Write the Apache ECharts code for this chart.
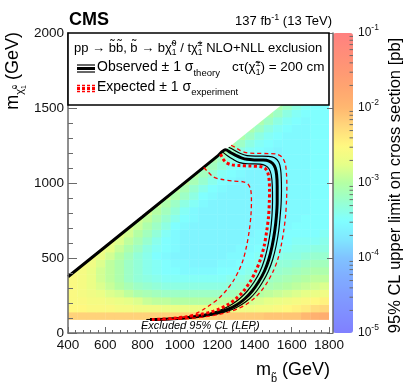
<!DOCTYPE html>
<html><head><meta charset="utf-8">
<script src="https://cdn.jsdelivr.net/npm/echarts@6/dist/echarts.min.js"></script>
<style>html,body{margin:0;padding:0;background:#fff}#c{width:407px;height:391px}</style>
</head><body><div id="c"></div>
<script>
// ---------- data ----------
const mbCenters = [425,475,525,575,625,675,725,775,825,875,925,975,1025,1075,1125,1175,1225,1275,1325,1375,1425,1475,1525,1575,1625,1675,1725,1775];
const mchiCenters = [115,165,215,265,315,365,415,465,515,565,615,665,715,765,815,865,915,965,1015,1065,1115,1165,1215,1265,1315,1365,1415,1465,1515];
const n = null;
// log10 of the 95% CL upper limit [pb], one row per mchi centre
const limitLog10 = [
[-2.2,-2.2,-2.2,-2.2,-2.2,-2.2,-2.2,-2.2,-2.2,-2.2,-2.2,-2.2,-2.2,-2.2,-2.2,-2.2,-2.15,-2.15,-2.15,-2.15,-2.15,-2.1,-2.1,-2.1,-2.1,-2.0,-1.9,-1.85],
[-2.5,-2.5,-2.55,-2.55,-2.55,-2.6,-2.6,-2.65,-2.65,-2.65,-2.7,-2.7,-2.7,-2.7,-2.7,-2.7,-2.7,-2.7,-2.65,-2.65,-2.6,-2.6,-2.55,-2.5,-2.45,-2.4,-2.3,-2.25],
[-2.55,-2.55,-2.6,-2.6,-2.65,-2.7,-2.75,-2.8,-2.9,-2.95,-2.95,-3.0,-3.0,-3.0,-3.0,-3.0,-2.95,-2.95,-2.9,-2.85,-2.8,-2.75,-2.7,-2.65,-2.6,-2.55,-2.5,-2.45],
[-2.55,-2.6,-2.65,-2.7,-2.8,-2.85,-2.95,-3.05,-3.1,-3.15,-3.2,-3.2,-3.2,-3.2,-3.2,-3.2,-3.2,-3.15,-3.1,-3.05,-3.0,-2.95,-2.9,-2.85,-2.8,-2.75,-2.7,-2.65],
[-2.55,-2.6,-2.7,-2.8,-2.9,-3.0,-3.1,-3.2,-3.25,-3.3,-3.35,-3.35,-3.35,-3.35,-3.35,-3.35,-3.35,-3.3,-3.25,-3.2,-3.15,-3.1,-3.05,-3.0,-2.95,-2.9,-2.85,-2.8],
[-2.55,-2.6,-2.7,-2.85,-2.95,-3.05,-3.2,-3.3,-3.35,-3.4,-3.45,-3.45,-3.45,-3.45,-3.45,-3.45,-3.45,-3.4,-3.35,-3.3,-3.25,-3.2,-3.15,-3.1,-3.05,-3.0,-2.95,-2.95],
[-2.55,-2.6,-2.7,-2.85,-2.95,-3.05,-3.2,-3.3,-3.4,-3.45,-3.5,-3.5,-3.55,-3.55,-3.55,-3.55,-3.5,-3.5,-3.45,-3.4,-3.35,-3.3,-3.25,-3.2,-3.15,-3.1,-3.05,-3.05],
[n,-2.6,-2.65,-2.8,-2.95,-3.05,-3.2,-3.3,-3.4,-3.45,-3.5,-3.55,-3.55,-3.6,-3.6,-3.6,-3.55,-3.55,-3.5,-3.45,-3.4,-3.35,-3.3,-3.3,-3.25,-3.2,-3.15,-3.15],
[n,n,-2.6,-2.7,-2.85,-3.0,-3.15,-3.3,-3.4,-3.5,-3.55,-3.6,-3.6,-3.6,-3.6,-3.6,-3.6,-3.55,-3.55,-3.5,-3.45,-3.45,-3.4,-3.35,-3.35,-3.3,-3.25,-3.25],
[n,n,n,-2.65,-2.75,-2.9,-3.05,-3.2,-3.35,-3.45,-3.5,-3.55,-3.6,-3.6,-3.6,-3.6,-3.6,-3.6,-3.55,-3.55,-3.5,-3.5,-3.45,-3.45,-3.4,-3.4,-3.35,-3.35],
[n,n,n,n,-2.7,-2.8,-2.95,-3.1,-3.25,-3.4,-3.5,-3.55,-3.6,-3.6,-3.6,-3.6,-3.6,-3.6,-3.6,-3.55,-3.55,-3.55,-3.5,-3.5,-3.45,-3.45,-3.45,-3.4],
[n,n,n,n,n,-2.75,-2.85,-3.0,-3.15,-3.3,-3.45,-3.55,-3.6,-3.6,-3.6,-3.6,-3.6,-3.6,-3.6,-3.6,-3.55,-3.55,-3.55,-3.5,-3.5,-3.5,-3.5,-3.45],
[n,n,n,n,n,n,-2.8,-2.9,-3.05,-3.2,-3.35,-3.5,-3.55,-3.6,-3.6,-3.6,-3.6,-3.6,-3.6,-3.6,-3.6,-3.55,-3.55,-3.55,-3.5,-3.5,-3.5,-3.5],
[n,n,n,n,n,n,n,-2.85,-2.95,-3.1,-3.25,-3.4,-3.5,-3.55,-3.6,-3.6,-3.6,-3.6,-3.6,-3.6,-3.6,-3.6,-3.55,-3.55,-3.55,-3.5,-3.5,-3.5],
[n,n,n,n,n,n,n,n,-2.85,-3.0,-3.15,-3.3,-3.45,-3.55,-3.6,-3.6,-3.6,-3.6,-3.6,-3.6,-3.6,-3.6,-3.6,-3.55,-3.55,-3.55,-3.5,-3.5],
[n,n,n,n,n,n,n,n,n,-2.9,-3.05,-3.2,-3.35,-3.45,-3.55,-3.6,-3.6,-3.6,-3.6,-3.6,-3.6,-3.6,-3.6,-3.55,-3.55,-3.55,-3.5,-3.5],
[n,n,n,n,n,n,n,n,n,n,-2.9,-3.05,-3.2,-3.35,-3.5,-3.55,-3.6,-3.6,-3.6,-3.6,-3.6,-3.6,-3.6,-3.55,-3.55,-3.55,-3.5,-3.5],
[n,n,n,n,n,n,n,n,n,n,n,-2.95,-3.1,-3.25,-3.4,-3.5,-3.55,-3.6,-3.6,-3.6,-3.6,-3.6,-3.6,-3.55,-3.55,-3.55,-3.5,-3.5],
[n,n,n,n,n,n,n,n,n,n,n,n,-2.95,-3.1,-3.25,-3.4,-3.5,-3.55,-3.6,-3.6,-3.6,-3.6,-3.6,-3.55,-3.55,-3.55,-3.5,-3.5],
[n,n,n,n,n,n,n,n,n,n,n,n,n,-3.0,-3.15,-3.3,-3.45,-3.5,-3.55,-3.6,-3.6,-3.6,-3.6,-3.55,-3.55,-3.55,-3.5,-3.5],
[n,n,n,n,n,n,n,n,n,n,n,n,n,n,-3.0,-3.15,-3.3,-3.45,-3.5,-3.55,-3.6,-3.6,-3.6,-3.55,-3.55,-3.55,-3.5,-3.5],
[n,n,n,n,n,n,n,n,n,n,n,n,n,n,n,-3.05,-3.2,-3.35,-3.45,-3.5,-3.55,-3.6,-3.6,-3.55,-3.55,-3.55,-3.5,-3.5],
[n,n,n,n,n,n,n,n,n,n,n,n,n,n,n,n,-3.05,-3.2,-3.35,-3.45,-3.5,-3.55,-3.6,-3.55,-3.55,-3.55,-3.5,-3.5],
[n,n,n,n,n,n,n,n,n,n,n,n,n,n,n,n,n,-3.05,-3.2,-3.35,-3.45,-3.5,-3.55,-3.55,-3.55,-3.55,-3.5,-3.5],
[n,n,n,n,n,n,n,n,n,n,n,n,n,n,n,n,n,n,-3.05,-3.2,-3.35,-3.45,-3.5,-3.55,-3.55,-3.55,-3.5,-3.5],
[n,n,n,n,n,n,n,n,n,n,n,n,n,n,n,n,n,n,n,-3.05,-3.2,-3.35,-3.45,-3.5,-3.55,-3.55,-3.5,-3.5],
[n,n,n,n,n,n,n,n,n,n,n,n,n,n,n,n,n,n,n,n,-3.05,-3.2,-3.35,-3.45,-3.5,-3.55,-3.5,-3.5],
[n,n,n,n,n,n,n,n,n,n,n,n,n,n,n,n,n,n,n,n,n,-3.05,-3.2,-3.35,-3.45,-3.5,-3.5,-3.5],
[n,n,n,n,n,n,n,n,n,n,n,n,n,n,n,n,n,n,n,n,n,n,-3.05,-3.2,-3.35,-3.45,-3.5,-3.5]
];
// kinematic boundary (edge of the scanned region)
const diagonal = [[400,375],[1800,1775]];
// exclusion contours [m_sbottom, m_neutralino]
const observed = [[400,375],[800,775],[1200,1177],[1245,1221],[1272,1203],[1300,1184],[1330,1168],[1360,1158],[1400,1154],[1445,1153],[1475,1148],[1498,1130],[1512,1100],[1519,1055],[1522,980],[1522,880],[1518,780],[1509,680],[1495,580],[1477,490],[1453,410],[1422,340],[1388,280],[1350,230],[1308,190],[1262,160],[1215,140],[1155,122],[1085,108],[1005,98],[925,92],[840,90]];
const observedUp = [[1262,1238],[1290,1220],[1322,1198],[1360,1183],[1420,1179],[1475,1177],[1508,1168],[1530,1140],[1540,1095],[1544,1030],[1545,950],[1543,860],[1538,780],[1530,680],[1516,580],[1498,490],[1474,410],[1444,340],[1412,280],[1375,230],[1332,190],[1287,160],[1242,140],[1185,122],[1115,108],[1035,98],[955,92],[880,90]];
const observedDown = [[1230,1206],[1255,1182],[1285,1158],[1320,1136],[1370,1128],[1430,1126],[1458,1117],[1478,1095],[1490,1055],[1496,980],[1497,880],[1494,780],[1486,680],[1472,580],[1454,490],[1430,410],[1398,340],[1362,280],[1322,230],[1278,190],[1232,160],[1185,140],[1125,122],[1055,108],[975,98],[900,92],[820,90]];
const expected = [[1218,1193],[1232,1160],[1248,1137],[1275,1122],[1320,1116],[1380,1113],[1430,1110],[1455,1100],[1470,1075],[1478,1030],[1481,960],[1480,880],[1476,780],[1466,680],[1452,580],[1432,490],[1406,410],[1376,340],[1342,280],[1302,230],[1258,190],[1212,160],[1165,140],[1105,122],[1035,108],[962,98],[900,92],[850,90]];
const expectedUp = [[1275,1252],[1300,1235],[1325,1216],[1355,1203],[1400,1198],[1480,1196],[1520,1192],[1548,1172],[1565,1130],[1572,1060],[1574,980],[1572,880],[1567,780],[1557,680],[1543,580],[1525,490],[1500,410],[1470,340],[1436,280],[1398,230],[1355,190],[1308,160],[1262,140],[1205,122],[1135,108],[1062,98],[990,92],[930,90]];
const expectedDown = [[1128,1103],[1150,1075],[1180,1040],[1220,1025],[1290,1013],[1340,1008],[1366,992],[1380,955],[1384,880],[1381,780],[1372,680],[1358,580],[1340,490],[1318,420],[1288,350],[1251,287],[1208,230],[1162,187],[1124,155],[1088,131],[1045,112],[995,100],[945,93],[900,90]];
// colour bar minor ticks (log decades 2..9)
const colorbarMinorTicks = [2e-5,3e-5,4e-5,5e-5,6e-5,7e-5,8e-5,9e-5,2e-4,3e-4,4e-4,5e-4,6e-4,7e-4,8e-4,9e-4,2e-3,3e-3,4e-3,5e-3,6e-3,7e-3,8e-3,9e-3,2e-2,3e-2,4e-2,5e-2,6e-2,7e-2,8e-2,9e-2];
const palette = ['#8080FF','#808EFF','#809CFF','#80ADFF','#80C2FF','#80E6FF','#80FFFF','#98FFD0','#B4FFA4','#E6FF88','#FFF880','#FFD87C','#FFB870','#FFA670','#FF9874','#FF8C7A','#FF8080'];

// ---------- build ----------
const cells = [];
limitLog10.forEach((row, i) => row.forEach((v, j) => { if (v !== null) cells.push([mbCenters[j], mchiCenters[i], v]); }));
const hx = (mbCenters[1] - mbCenters[0]) / 2, hy = (mchiCenters[1] - mchiCenters[0]) / 2;

const FF = "'Liberation Sans', Arial, Helvetica, sans-serif";
const mc = document.createElement('canvas').getContext('2d');
function F(s, b, i) { return (i ? 'italic ' : '') + (b ? 'bold ' : '') + s + 'px ' + FF; }
function W(t, f) { mc.font = f; return mc.measureText(t).width; }
function T(x, base, t, f, s, c) {
  return { type: 'text', x: x, y: base - 0.35 * s, z: 100, silent: true,
    style: { text: t, font: f, fill: c || '#000', align: 'left', verticalAlign: 'middle' } };
}
function runWidth(segs) {
  let w = 0;
  for (const g of segs) {
    if (g.st) { const f = F(g.s); w += Math.max(W(g.st[0], f), W(g.st[1], f)); }
    else w += W(g.t, F(g.s, g.b, g.i));
  }
  return w;
}
function run(x0, base, segs) {
  const els = []; let x = x0;
  for (const g of segs) {
    if (g.st) {
      const f = F(g.s);
      els.push(T(x, base + g.up, g.st[0], f, g.s));
      els.push(T(x, base + g.dn, g.st[1], f, g.s));
      x += Math.max(W(g.st[0], f), W(g.st[1], f));
    } else {
      const f = F(g.s, g.b, g.i);
      els.push(T(x, base + (g.dy || 0), g.t, f, g.s));
      x += W(g.t, f);
    }
  }
  return els;
}
const chi = 'χ\u0303', sb = 'b\u0303';
const graphics = [];
graphics.push({ type: 'rect', z: 90, silent: true, shape: { x: 68, y: 33, width: 261, height: 72 }, style: { fill: '#fff', stroke: '#000', lineWidth: 1.6 } });
graphics.push(...run(74, 52.5, [{t:'pp → ', s:13}, {t: sb + sb + ', ' + sb + ' → b', s:13}, {t: chi, s:13}, {st:['0','1'], s:8.5, up:-6, dn:3}, {t:' / t', s:13}, {t: chi, s:13}, {st:['±','1'], s:8.5, up:-6, dn:3}, {t:' NLO+NLL exclusion', s:13}]));
graphics.push(...run(97, 72.5, [{t:'Observed ± 1 σ', s:14}, {t:'theory', s:9.5, dy:4}]));
graphics.push(...run(232, 72.5, [{t:'cτ(', s:13.5}, {t: chi, s:13.5}, {st:['±','1'], s:8.5, up:-6, dn:3}, {t:') = 200 cm', s:13.5}]));
graphics.push(...run(97, 92.5, [{t:'Expected ± 1 σ', s:14}, {t:'experiment', s:9.5, dy:3.5}]));
// legend symbols
[[65, 1.2], [68.5, 3], [72, 1.2]].forEach(([y, w]) => graphics.push({ type: 'line', z: 100, silent: true, shape: { x1: 77, y1: y, x2: 95, y2: y }, style: { stroke: '#000', lineWidth: w } }));
[[85.5, 1.3], [88.5, 3], [91.5, 1.3]].forEach(([y, w]) => graphics.push({ type: 'line', z: 100, silent: true, shape: { x1: 77, y1: y, x2: 95, y2: y }, style: { stroke: '#ff0000', lineWidth: w, lineDash: [3, 2] } }));
// header
graphics.push(...run(69, 26, [{t:'CMS', s:18, b:true}]));
const lumi = [{t:'137 fb', s:13}, {t:'-1', s:9, dy:-5}, {t:' (13 TeV)', s:13}];
graphics.push(...run(332 - runWidth(lumi), 25.5, lumi));
// x title
const xt = [{t:'m', s:18}, {t: sb, s:11, dy:7}, {t:' (GeV)', s:18}];
graphics.push(...run(330 - runWidth(xt), 376, xt));
// y title (rotated)
const yt = [{t:'m', s:18}, {t: chi, s:11, dy:4}, {st:['0','1'], s:7, up:-2, dn:7}, {t:' (GeV)', s:18}];
graphics.push({ type: 'group', x: 19.5, y: 32 + runWidth(yt), rotation: Math.PI / 2, children: run(0, 0, yt) });
// colour bar title (rotated)
const zt = [{t:'95% CL upper limit on cross section [pb]', s:16.5}];
graphics.push({ type: 'group', x: 401.5, y: 185.5 + runWidth(zt) / 2, rotation: Math.PI / 2, children: run(0, 0, zt) });
// LEP note
graphics.push(...run(141, 330, [{t:'Excluded 95% CL (LEP)', s:11, i:true}]));

const axisCol = '#6a6a6a';
const lineSeries = (data, color, width, dash, z) => ({
  type: 'line', data: data, xAxisIndex: 0, yAxisIndex: 0, symbol: 'none', smooth: 0.3, z: z, silent: true,
  lineStyle: { color: color, width: width, type: dash ? dash : 'solid' }
});

const chart = echarts.init(document.getElementById('c'), null, { renderer: 'canvas' });
chart.setOption({
  animation: false,
  backgroundColor: '#fff',
  grid: [
    { left: 68, top: 33, width: 261, height: 300 },
    { left: 333, top: 33, width: 20, height: 300 }
  ],
  xAxis: [
    { type: 'value', gridIndex: 0, min: 400, max: 1800, interval: 200, z: 10,
      axisLine: { lineStyle: { color: axisCol, width: 1.5 } },
      axisTick: { inside: true, length: 6, lineStyle: { color: axisCol } },
      minorTick: { show: true, splitNumber: 5, length: 3, lineStyle: { color: axisCol } },
      splitLine: { show: false },
      axisLabel: { fontSize: 13.5, fontFamily: FF, color: '#111', margin: 5, formatter: v => String(v) } },
    { type: 'value', gridIndex: 1, min: 0, max: 1, show: false }
  ],
  yAxis: [
    { type: 'value', gridIndex: 0, min: 0, max: 2000, interval: 500, z: 10,
      axisLine: { lineStyle: { color: axisCol, width: 1.5 } },
      axisTick: { inside: true, length: 9, lineStyle: { color: axisCol } },
      minorTick: { show: true, splitNumber: 5, length: 5, lineStyle: { color: axisCol } },
      splitLine: { show: false },
      axisLabel: { fontSize: 13.5, fontFamily: FF, color: '#111', margin: 4, formatter: v => String(v) } },
    { type: 'log', gridIndex: 1, min: 1e-5, max: 1e-1, logBase: 10, position: 'right', z: 10,
      axisLine: { show: true, lineStyle: { color: axisCol, width: 1.5 } },
      axisTick: { show: true, inside: true, length: 6, lineStyle: { color: axisCol } },
      splitLine: { show: false },
      axisLabel: { margin: 5,
        formatter: v => '{b|10}{s|' + Math.round(Math.log10(v)) + '}',
        rich: { b: { fontSize: 12, fontFamily: FF, color: '#111', padding: [3, 0, 3, 0] },
                s: { fontSize: 8.5, fontFamily: FF, color: '#111', padding: [0, 0, 10, 0] } } } }
  ],
  visualMap: {
    type: 'continuous', min: -5, max: -1, dimension: 2, seriesIndex: 0,
    show: true, calculable: false, hoverLink: false, left: 333, top: 33, padding: 0,
    itemWidth: 20, itemHeight: 300, inRange: { color: palette }
  },
  series: [
    { type: 'custom', coordinateSystem: 'cartesian2d', xAxisIndex: 0, yAxisIndex: 0, data: cells, z: 1, silent: true, clip: true,
      encode: { x: 0, y: 1 },
      renderItem: (params, api) => {
        const x = api.value(0), y = api.value(1);
        const a = api.coord([x - hx, y + hy]);
        const b = api.coord([x + hx, y - hy]);
        return { type: 'rect', shape: { x: a[0], y: a[1], width: b[0] - a[0] + 0.4, height: b[1] - a[1] + 0.4 }, style: { fill: api.visual('color') } };
      } },
    { type: 'line', data: diagonal, xAxisIndex: 0, yAxisIndex: 0, symbol: 'none', z: 2, silent: true,
      lineStyle: { width: 0, color: '#fff' }, areaStyle: { color: '#fff', opacity: 1, origin: 'end' } },
    lineSeries(observedUp, '#000', 1.2, null, 3),
    lineSeries(observedDown, '#000', 1.2, null, 3),
    lineSeries(observed, '#000', 3, null, 4),
    lineSeries(expectedUp, '#ff0000', 1.3, [4, 3], 5),
    lineSeries(expectedDown, '#ff0000', 1.3, [4, 3], 5),
    lineSeries(expected, '#ff0000', 3, [3, 2.5], 6),
    { type: 'custom', coordinateSystem: 'cartesian2d', xAxisIndex: 1, yAxisIndex: 1, z: 11, silent: true,
      data: colorbarMinorTicks.map(v => [1, v]),
      renderItem: (params, api) => {
        const p = api.coord([1, api.value(1)]);
        return { type: 'line', shape: { x1: p[0], y1: p[1], x2: p[0] - 3.5, y2: p[1] }, style: { stroke: axisCol, lineWidth: 1 } };
      } }
  ],
  graphic: graphics
});
</script></body></html>
